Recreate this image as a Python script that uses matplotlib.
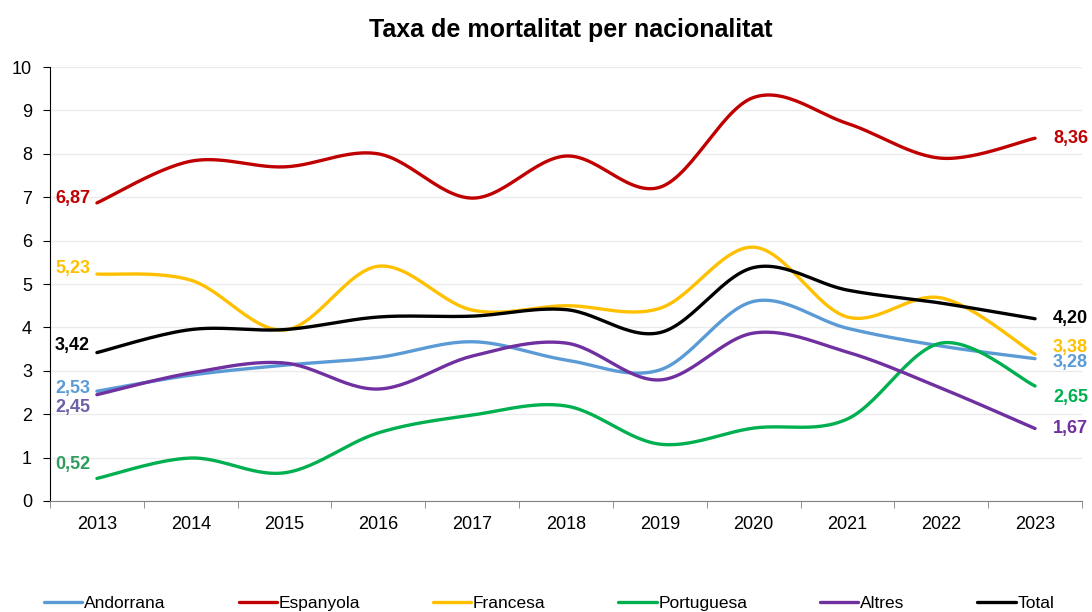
import numpy as np
import matplotlib
matplotlib.use("Agg")
import matplotlib.pyplot as plt

plt.rcParams['font.family'] = ['Liberation Sans', 'DejaVu Sans']

years = [2013, 2014, 2015, 2016, 2017, 2018, 2019, 2020, 2021, 2022, 2023]
andorrana = [2.53, 2.90, 3.13, 3.31, 3.67, 3.25, 3.02, 4.60, 3.98, 3.57, 3.28]
espanyola = [6.87, 7.83, 7.70, 8.00, 6.98, 7.95, 7.23, 9.30, 8.70, 7.90, 8.36]
francesa = [5.23, 5.09, 3.94, 5.41, 4.40, 4.50, 4.44, 5.85, 4.24, 4.68, 3.38]
portuguesa = [0.52, 0.99, 0.65, 1.57, 1.98, 2.19, 1.31, 1.68, 1.89, 3.64, 2.65]
altres = [2.45, 2.95, 3.18, 2.58, 3.34, 3.64, 2.79, 3.87, 3.43, 2.60, 1.67]
total = [3.42, 3.95, 3.95, 4.24, 4.26, 4.41, 3.88, 5.38, 4.86, 4.56, 4.20]

names = ["Andorrana", "Espanyola", "Francesa", "Portuguesa", "Altres", "Total"]
series = [andorrana, espanyola, francesa, portuguesa, altres, total]
colors = ["#5B9BD5", "#C00000", "#FFC000", "#00B050", "#7030A0", "#000000"]
first_col = ["#5B9BD5", "#C00000", "#FFC000", "#2E9E5E", "#6F5FA8", "#000000"]
end_col = ["#5B9BD5", "#C00000", "#FFC000", "#00B050", "#7030A0", "#000000"]
# label offsets (points) for first / last value
first_off = [2, 3, 4, 10, -9, 5]
last_off = [-3, 0, 5, -8, 0, 0]


def smooth(x, y, n=30):
    # excel-like smoothed line (catmull-rom through the points)
    x = np.asarray(x, float)
    y = np.asarray(y, float)
    px = np.concatenate([[x[0]], x, [x[-1]]])
    py = np.concatenate([[y[0]], y, [y[-1]]])
    xs, ys = [], []
    t = np.linspace(0, 1, n)
    for i in range(1, len(px) - 2):
        p0, p1, p2, p3 = [np.array([px[j], py[j]]) for j in (i - 1, i, i + 1, i + 2)]
        c1 = p1 + (p2 - p0) / 6
        c2 = p2 - (p3 - p1) / 6
        b = ((1 - t) ** 3)[:, None] * p1 + (3 * (1 - t) ** 2 * t)[:, None] * c1 \
            + (3 * (1 - t) * t ** 2)[:, None] * c2 + (t ** 3)[:, None] * p2
        xs.append(b[:, 0])
        ys.append(b[:, 1])
    return np.concatenate(xs), np.concatenate(ys)


fig = plt.figure(figsize=(10.92, 6.12), dpi=100)
ax = fig.add_axes([0.0458, 0.1814, 0.945, 0.709])

xi = np.arange(len(years))
for name, vals, c, fc, ec, fo, lo in zip(names, series, colors, first_col, end_col,
                                         first_off, last_off):
    sx, sy = smooth(xi, vals)
    ax.plot(sx, sy, color=c, lw=2.4, label=name, solid_capstyle='round')
    ax.annotate(f"{vals[0]:.2f}".replace(".", ","), (xi[0], vals[0]),
                xytext=(-5, fo), textcoords="offset points", ha="right", va="center",
                color=fc, fontsize=13, fontweight="bold")
    ax.annotate(f"{vals[-1]:.2f}".replace(".", ","), (xi[-1], vals[-1]),
                xytext=(13, lo), textcoords="offset points", ha="left", va="center",
                color=ec, fontsize=13, fontweight="bold")

ax.set_xlim(-0.5, len(years) - 0.5)
ax.set_ylim(0, 10)
ax.set_yticks(range(0, 11))
ax.set_xticks(xi)
ax.set_xticklabels([str(y) for y in years])
ax.set_xticks(np.arange(-0.5, len(years)), minor=True)
ax.tick_params(axis="x", which="major", length=0, labelsize=13, pad=11)
ax.tick_params(axis="x", which="minor", length=5, color="#808080")
ax.tick_params(axis="y", length=5, labelsize=13, pad=8)
ax.grid(axis="y", color="#EBEBEB", lw=1)
ax.set_axisbelow(True)
for s in ["top", "right"]:
    ax.spines[s].set_visible(False)
ax.spines["bottom"].set_color("#808080")
ax.spines["left"].set_color("black")

fig.suptitle("Taxa de mortalitat per nacionalitat", x=0.523, y=0.97,
             fontsize=18, fontweight="bold")

fig.legend(loc="center", bbox_to_anchor=(0.503, 0.014), ncol=6, frameon=False,
           fontsize=12.5, handlelength=2.2, handletextpad=0.1, columnspacing=4.2)

fig.savefig("out.png", dpi=100)
